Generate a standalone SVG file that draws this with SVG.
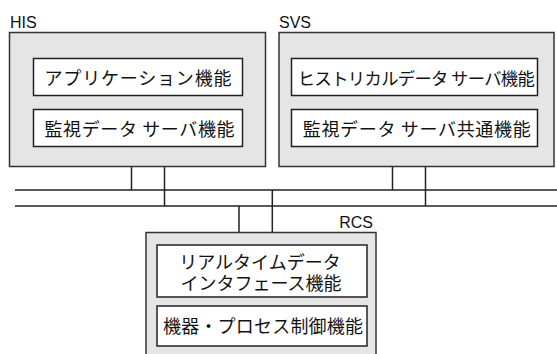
<svg xmlns="http://www.w3.org/2000/svg" width="557" height="354" viewBox="0 0 557 354">
<style>
.outer{fill:#e5e5e5;stroke:#333;stroke-width:1.5}
.inner{fill:#fff;stroke:#222;stroke-width:1.5}
.lbl{font-family:"Liberation Sans",Arial,sans-serif;font-size:16px;fill:#111}
.jp{font-family:"Noto Sans CJK JP","Noto Sans",sans-serif;font-size:18px;fill:#111;text-anchor:middle}
.conn line{stroke:#222;stroke-width:1.5}
</style>
<rect width="557" height="354" fill="#fff"/>
<g class="conn" id="connectors">
<line x1="15" y1="190" x2="557" y2="190"/>
<line x1="15" y1="206" x2="557" y2="206"/>
<line x1="131.5" y1="166.5" x2="131.5" y2="190"/>
<line x1="164.5" y1="166.5" x2="164.5" y2="206"/>
<line x1="392.5" y1="166.5" x2="392.5" y2="190"/>
<line x1="425.5" y1="166.5" x2="425.5" y2="206"/>
<line x1="239" y1="206" x2="239" y2="232.5"/>
<line x1="272.3" y1="190" x2="272.3" y2="232.5"/>
</g>
<g id="HIS">
<text class="lbl" x="10" y="28">HIS</text>
<rect class="outer" x="9.5" y="32.5" width="256" height="134"/>
<rect class="inner" x="33.5" y="58.5" width="209" height="37"/>
<text class="jp" x="138" y="85" textLength="187" lengthAdjust="spacing">アプリケーション機能</text>
<rect class="inner" x="33.5" y="109.5" width="209" height="37"/>
<text class="jp" x="139.5" y="136" textLength="190" lengthAdjust="spacing">監視データ サーバ機能</text>
</g>
<g id="SVS">
<text class="lbl" x="279" y="28">SVS</text>
<rect class="outer" x="279" y="32.5" width="275" height="134"/>
<rect class="inner" x="291.5" y="58.5" width="246" height="37"/>
<text class="jp" x="416.3" y="84.8" style="font-size:17.3px" textLength="237" lengthAdjust="spacing">ヒストリカルデータ サーバ機能</text>
<rect class="inner" x="291.5" y="109.5" width="246" height="37"/>
<text class="jp" x="416.7" y="136" textLength="228" lengthAdjust="spacing">監視データ サーバ共通機能</text>
</g>
<g id="RCS">
<text class="lbl" x="373" y="228.3" text-anchor="end">RCS</text>
<rect class="outer" x="146" y="232.5" width="230" height="130"/>
<rect class="inner" x="157" y="245" width="210" height="52"/>
<text class="jp"><tspan x="260" y="269">リアルタイムデータ</tspan><tspan x="261" y="290">インタフェース機能</tspan></text>
<rect class="inner" x="157" y="306" width="210" height="40"/>
<text class="jp" x="263" y="332.5" textLength="200" lengthAdjust="spacing">機器・プロセス制御機能</text>
</g>
</svg>
